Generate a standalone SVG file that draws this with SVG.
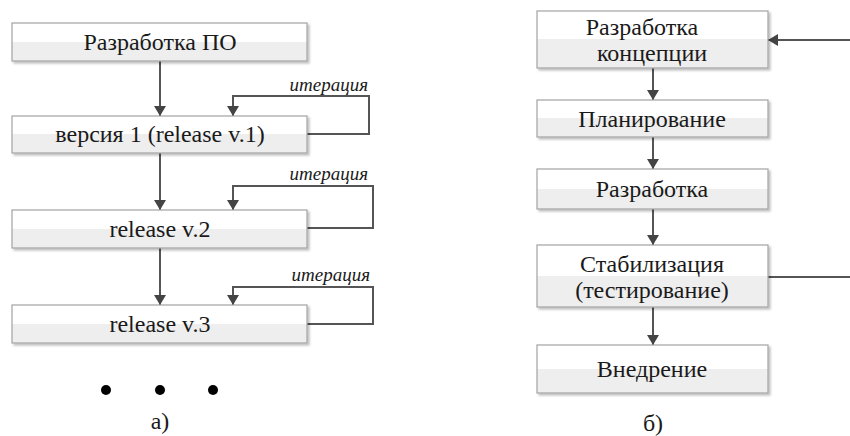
<svg xmlns="http://www.w3.org/2000/svg" width="850" height="436" viewBox="0 0 850 436">
  <defs>
    <linearGradient id="boxFill" x1="0" y1="0" x2="0" y2="1">
      <stop offset="0" stop-color="#ffffff"/>
      <stop offset="0.5" stop-color="#ffffff"/>
      <stop offset="0.5" stop-color="#eeeeee"/>
      <stop offset="1" stop-color="#eeeeee"/>
    </linearGradient>
    <filter id="shadow" x="-5%" y="-10%" width="115%" height="130%">
      <feDropShadow dx="2" dy="2" stdDeviation="1" flood-color="#000" flood-opacity="0.25"/>
    </filter>
    <marker id="arrow" viewBox="0 0 10 12" refX="10" refY="6" markerWidth="11" markerHeight="12" markerUnits="userSpaceOnUse" orient="auto">
      <path d="M0,0 L10,6 L0,12 Z" fill="#444"/>
    </marker>
  </defs>
  <style>
    .box { fill: url(#boxFill); stroke: #a3a3a3; stroke-width: 1.2; filter: url(#shadow); }
    .lbl { font-family: "Liberation Serif", "Times New Roman", serif; font-size: 24px; fill: #1a1a1a; text-anchor: middle; }
    .it { font-family: "Liberation Serif", "Times New Roman", serif; font-size: 19px; font-style: italic; fill: #1a1a1a; text-anchor: end; }
    .cap { font-family: "Liberation Serif", "Times New Roman", serif; font-size: 24px; fill: #1a1a1a; text-anchor: middle; }
    .conn { fill: none; stroke: #555; stroke-width: 2; }
  </style>

  <rect width="850" height="436" fill="#ffffff"/>

  <!-- connectors -->
  <g id="connectors">
    <!-- а) main chain -->
    <line class="conn" x1="160" y1="61" x2="160" y2="116" marker-end="url(#arrow)"/>
    <line class="conn" x1="160" y1="153" x2="160" y2="210" marker-end="url(#arrow)"/>
    <line class="conn" x1="160" y1="248" x2="160" y2="305" marker-end="url(#arrow)"/>
    <!-- а) iteration loops -->
    <path class="conn" d="M307,134 H369 V96 H233 V116" marker-end="url(#arrow)"/>
    <path class="conn" d="M307,228 H373 V186 H233 V210" marker-end="url(#arrow)"/>
    <path class="conn" d="M307,324 H373 V287 H233 V305" marker-end="url(#arrow)"/>
    <!-- б) chain -->
    <line class="conn" x1="850" y1="40" x2="768" y2="40" marker-end="url(#arrow)"/>
    <line class="conn" x1="653" y1="68" x2="653" y2="100" marker-end="url(#arrow)"/>
    <line class="conn" x1="653" y1="137" x2="653" y2="169" marker-end="url(#arrow)"/>
    <line class="conn" x1="653" y1="209" x2="653" y2="245" marker-end="url(#arrow)"/>
    <line class="conn" x1="653" y1="307" x2="653" y2="345" marker-end="url(#arrow)"/>
    <line class="conn" x1="768" y1="277" x2="850" y2="277"/>
    <!-- iteration labels -->
    <text class="it" x="368" y="91">итерация</text>
    <text class="it" x="368" y="180">итерация</text>
    <text class="it" x="370" y="281">итерация</text>
  </g>

  <!-- а) nodes -->
  <g id="dev">
    <rect class="box" x="12" y="23" width="295" height="38"/>
    <text class="lbl" x="160" y="50">Разработка ПО</text>
  </g>
  <g id="release1">
    <rect class="box" x="12" y="116" width="295" height="37"/>
    <text class="lbl" x="160" y="142">версия 1 (release v.1)</text>
  </g>
  <g id="release2">
    <rect class="box" x="12" y="210" width="295" height="38"/>
    <text class="lbl" x="160" y="237">release v.2</text>
  </g>
  <g id="release3">
    <rect class="box" x="12" y="305" width="295" height="38"/>
    <text class="lbl" x="160" y="332">release v.3</text>
  </g>
  <g id="ellipsis">
    <circle cx="106" cy="390" r="5" fill="#000"/>
    <circle cx="160" cy="390" r="5" fill="#000"/>
    <circle cx="213" cy="390" r="5" fill="#000"/>
  </g>
  <text class="cap" x="160" y="429">а)</text>

  <!-- б) nodes -->
  <g id="concept">
    <rect class="box" x="537" y="11" width="231" height="57"/>
    <text class="lbl" x="642" y="35">Разработка</text>
    <text class="lbl" x="652" y="61">концепции</text>
  </g>
  <g id="planning">
    <rect class="box" x="537" y="100" width="231" height="37"/>
    <text class="lbl" x="652" y="127">Планирование</text>
  </g>
  <g id="development">
    <rect class="box" x="537" y="169" width="231" height="40"/>
    <text class="lbl" x="652" y="197">Разработка</text>
  </g>
  <g id="stabilization">
    <rect class="box" x="537" y="245" width="231" height="62"/>
    <text class="lbl" x="652" y="272">Стабилизация</text>
    <text class="lbl" x="652" y="298">(тестирование)</text>
  </g>
  <g id="deployment">
    <rect class="box" x="537" y="345" width="231" height="48"/>
    <text class="lbl" x="652" y="377">Внедрение</text>
  </g>
  <text class="cap" x="653" y="431">б)</text>
</svg>
